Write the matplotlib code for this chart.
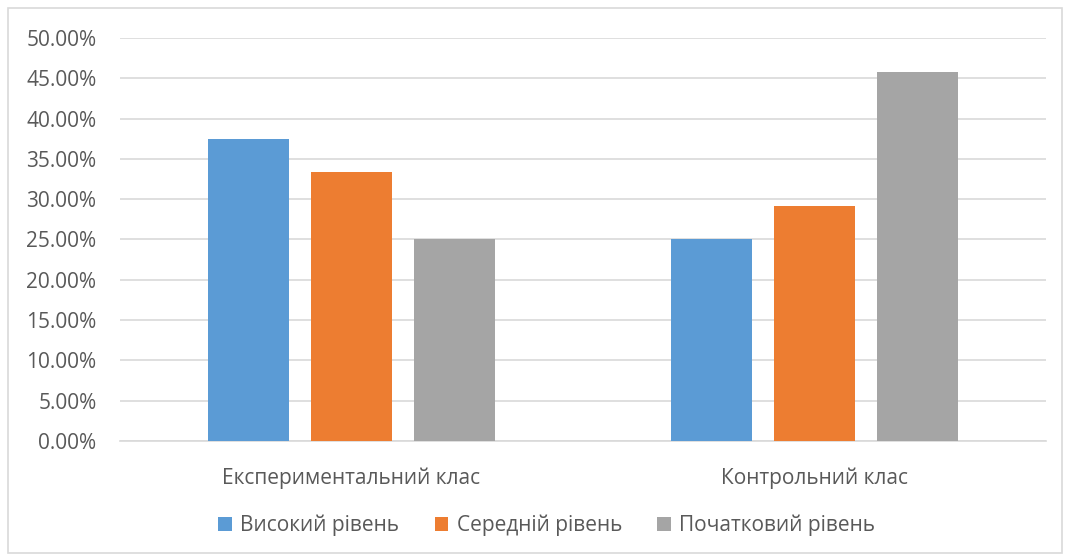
import matplotlib.pyplot as plt
import matplotlib.ticker as mtick
from matplotlib.patches import Rectangle
import numpy as np

# Data
classes = ["Експериментальний клас", "Контрольний клас"]
levels = ["Високий рівень", "Середній рівень", "Початковий рівень"]
high = [0.375, 0.25]
medium = [0.3333, 0.2917]
initial = [0.25, 0.4583]
colors = ["#5b9bd5", "#ed7d31", "#a5a5a5"]

plt.rcParams["font.family"] = ["Open Sans", "DejaVu Sans"]
text_color = "#595959"
grid_color = "#d9d9d9"

fig = plt.figure(figsize=(10.68, 5.57), dpi=100)
ax = fig.add_axes([0.1124, 0.2083, 0.8670, 0.7235])

x = np.arange(len(classes))
width = 0.175
step = 0.2225
for i, (vals, label) in enumerate(zip([high, medium, initial], levels)):
    ax.bar(x + (i - 1) * step, vals, width, color=colors[i], label=label, zorder=3)

ax.set_xlim(-0.5, 1.5)
ax.set_ylim(0, 0.5)
ax.set_yticks(np.arange(0, 0.501, 0.05))
ax.yaxis.set_major_formatter(mtick.PercentFormatter(1.0, decimals=2))
ax.set_xticks(x)
ax.set_xticklabels(classes)

ax.grid(axis="y", color=grid_color, linewidth=1.2, zorder=0)
for side in ["top", "right", "left"]:
    ax.spines[side].set_visible(False)
ax.spines["bottom"].set_color(grid_color)
ax.spines["bottom"].set_linewidth(1.2)
ax.tick_params(axis="both", length=0, colors=text_color, labelsize=15)
ax.tick_params(axis="y", pad=17)
ax.tick_params(axis="x", pad=19)

leg = fig.legend(loc="center", bbox_to_anchor=(0.512, 0.057), ncol=3, frameon=False,
                 fontsize=15, handlelength=0.65, handleheight=0.65, handletextpad=0.4,
                 columnspacing=1.7)
for t in leg.get_texts():
    t.set_color(text_color)

# outer chart border
fig.patches.append(Rectangle((8 / 1068, 4 / 557), 1054 / 1068, 545 / 557,
                             transform=fig.transFigure, fill=False,
                             edgecolor=grid_color, linewidth=1.2))

fig.savefig("out.png", dpi=100)
